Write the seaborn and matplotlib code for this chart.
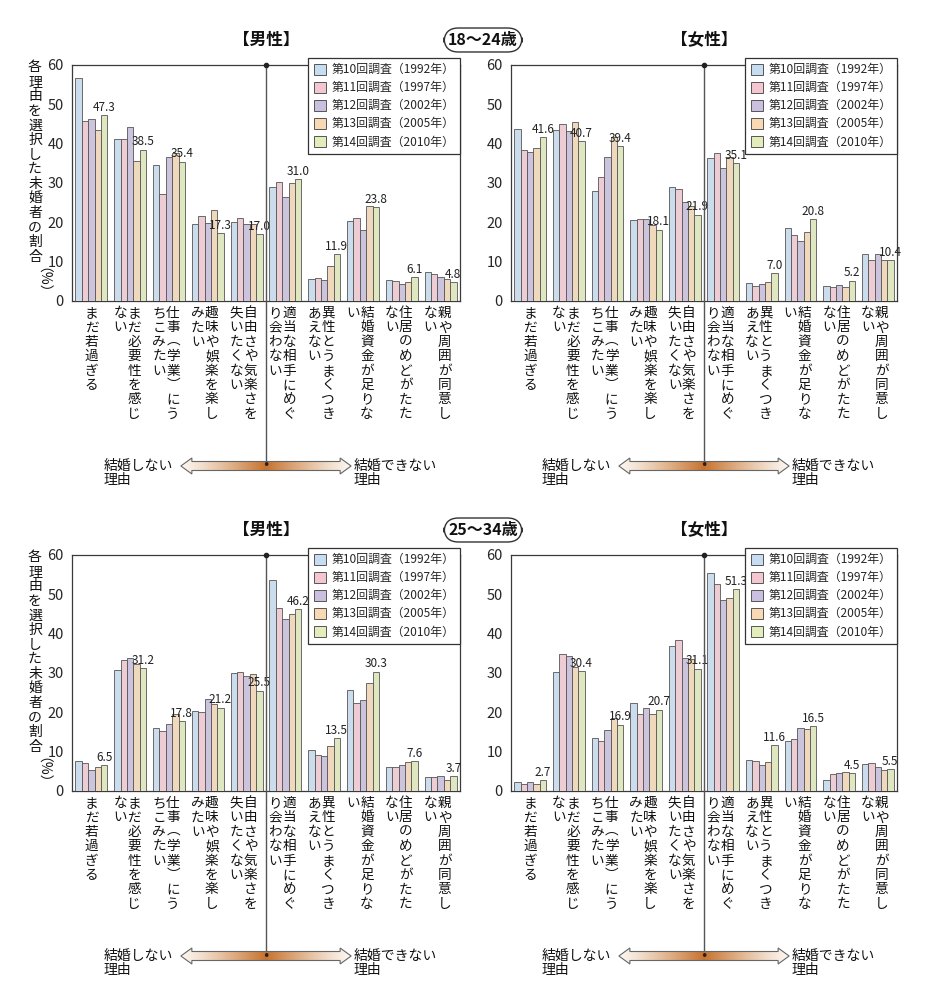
import numpy as np
import pandas as pd
import matplotlib
matplotlib.use("Agg")
import matplotlib.pyplot as plt
from matplotlib.patches import Patch, Polygon
from matplotlib.transforms import ScaledTranslation
import seaborn as sns

# ---- data ----
reasons = ["まだ若過ぎる", "まだ必要性を感じない", "仕事（学業）にうちこみたい",
           "趣味や娯楽を楽しみたい", "自由さや気楽さを失いたくない",
           "適当な相手にめぐり会わない", "異性とうまくつきあえない",
           "結婚資金が足りない", "住居のめどがたたない", "親や周囲が同意しない"]
# vertical label columns, right column first
label_cols = [["まだ若過ぎる"],
              ["まだ必要性を感じ", "ない"],
              ["仕事（学業）にう", "ちこみたい"],
              ["趣味や娯楽を楽し", "みたい"],
              ["自由さや気楽さを", "失いたくない"],
              ["適当な相手にめぐ", "り会わない"],
              ["異性とうまくつき", "あえない"],
              ["結婚資金が足りな", "い"],
              ["住居のめどがたた", "ない"],
              ["親や周囲が同意し", "ない"]]
surveys = ["第10回調査（1992年）", "第11回調査（1997年）", "第12回調査（2002年）",
           "第13回調査（2005年）", "第14回調査（2010年）"]
colors = ["#c6dcf1", "#f3c6d0", "#cbbfe0", "#f8d9b3", "#e3edbb"]

# rows: 1992, 1997, 2002, 2005, 2010
male_18_24 = [[56.7, 41.2, 34.7, 19.5, 20.2, 28.9, 5.7, 20.4, 5.4, 7.3],
              [45.8, 41.2, 27.3, 21.7, 21.0, 30.3, 5.9, 21.2, 5.2, 6.9],
              [46.2, 44.2, 36.7, 19.8, 19.7, 26.5, 5.3, 18.0, 4.4, 6.2],
              [43.6, 35.7, 37.5, 23.1, 19.6, 29.9, 8.8, 24.2, 4.9, 5.7],
              [47.3, 38.5, 35.4, 17.3, 17.0, 31.0, 11.9, 23.8, 6.1, 4.8]]
female_18_24 = [[43.8, 43.6, 27.9, 20.7, 29.1, 36.3, 4.5, 18.6, 3.7, 11.9],
                [38.5, 44.9, 31.4, 20.9, 28.6, 37.5, 3.8, 16.9, 3.6, 10.3],
                [38.0, 43.3, 36.7, 20.9, 25.1, 33.7, 4.3, 15.3, 4.1, 12.0],
                [39.0, 45.4, 41.7, 19.4, 24.2, 36.7, 4.9, 17.5, 3.6, 10.4],
                [41.6, 40.7, 39.4, 18.1, 21.9, 35.1, 7.0, 20.8, 5.2, 10.4]]
male_25_34 = [[7.5, 30.8, 16.0, 20.4, 30.1, 53.6, 10.5, 25.6, 6.2, 3.6],
              [7.0, 33.4, 15.3, 20.0, 30.3, 46.6, 9.2, 22.4, 6.0, 3.6],
              [5.4, 33.7, 17.0, 23.4, 29.2, 43.8, 9.0, 23.1, 6.5, 3.9],
              [6.0, 32.4, 19.7, 22.0, 29.8, 45.1, 11.4, 27.5, 7.3, 2.9],
              [6.5, 31.2, 17.8, 21.2, 25.5, 46.2, 13.5, 30.3, 7.6, 3.7]]
female_25_34 = [[2.4, 30.3, 13.6, 22.3, 36.9, 55.4, 7.9, 12.6, 2.8, 6.9],
                [1.7, 34.9, 12.7, 19.7, 38.4, 52.5, 7.6, 13.1, 4.2, 7.1],
                [2.4, 34.3, 15.4, 21.2, 33.8, 48.6, 6.6, 15.9, 4.6, 6.2],
                [1.9, 31.5, 18.6, 19.7, 33.6, 49.1, 7.3, 15.8, 4.9, 5.3],
                [2.7, 30.4, 16.9, 20.7, 31.1, 51.3, 11.6, 16.5, 4.5, 5.5]]

ages = ["18〜24歳", "25〜34歳"]
yticks = [0, 10, 20, 30, 40, 50, 60]
ylabel = "各理由を選択した未婚者の割合"

sns.set_style("white")
plt.rcParams["font.family"] = ["Noto Sans CJK JP", "DejaVu Sans"]

W, H = 925, 1005
fig = plt.figure(figsize=(W / 100, H / 100), dpi=100)
DARK = "#3a3a3a"


def px_rect(l, t, r, b):
    return [l / W, 1 - b / H, (r - l) / W, (b - t) / H]


def vert(c):
    return {"（": "︵", "）": "︶"}.get(c, c)


def px_off(ax, dx, dy):
    # offset in pixels (dy positive = down)
    return ScaledTranslation(dx / 100, -dy / 100, fig.dpi_scale_trans)


def draw_arrow(cx, cy, half):
    ax_a = fig.add_axes(px_rect(cx - half - 2, cy - 10, cx + half + 2, cy + 10))
    ax_a.set_xlim(-1, 1)
    ax_a.set_ylim(-1, 1)
    ax_a.axis("off")
    hl = 11 / (half + 2)
    verts = [(-0.99, 0), (-0.99 + hl, 0.8), (-0.99 + hl, 0.45), (0.99 - hl, 0.45),
             (0.99 - hl, 0.8), (0.99, 0), (0.99 - hl, -0.8), (0.99 - hl, -0.45),
             (-0.99 + hl, -0.45), (-0.99 + hl, -0.8)]
    poly = Polygon(verts, closed=True, fc="none", ec="#666666", lw=0.8, zorder=3)
    ax_a.add_patch(poly)
    t = np.abs(np.linspace(-1, 1, 300))
    c0 = np.array([0.78, 0.45, 0.18])
    c1 = np.array([0.99, 0.97, 0.95])
    grad = c0[None, :] * (1 - t[:, None]) ** 1.2 + c1[None, :] * (1 - (1 - t[:, None]) ** 1.2)
    im = ax_a.imshow(grad[None, :, :], extent=[-1, 1, -1, 1], aspect="auto", zorder=2)
    im.set_clip_path(poly)
    return ax_a


panels = [(male_18_24, "【男性】", (72, 65, 460, 301), True, 0),
          (female_18_24, "【女性】", (511, 65, 897, 301), False, 0),
          (male_25_34, "【男性】", (72, 555, 460, 791), True, 1),
          (female_25_34, "【女性】", (511, 555, 897, 791), False, 1)]

for values, title, (l, t, r, b), is_left, row in panels:
    ax = fig.add_axes(px_rect(l, t, r, b))
    df = pd.DataFrame({
        "reason": np.repeat([reasons], len(surveys), axis=0).ravel(),
        "survey": np.repeat(surveys, len(reasons)),
        "value": np.array(values).ravel(),
    })
    sns.barplot(data=df, x="reason", y="value", hue="survey", order=reasons,
                hue_order=surveys, palette=colors, width=0.82, gap=0,
                edgecolor="#555555", linewidth=0.6, legend=False, ax=ax, zorder=3)
    ax.bar_label(ax.containers[-1], fmt="%.1f", fontsize=8.5, padding=1,
                 family=["Liberation Sans Narrow", "Noto Sans CJK JP"], color="#222222")

    ax.set_ylim(0, 60)
    ax.set_xlim(-0.5, 9.5)
    ax.set_yticks(yticks)
    ax.set_yticks([10, 20, 30, 40, 50], minor=True)
    ax.yaxis.grid(True, which="minor", linestyle=(0, (2, 2)), color="#555555", lw=0.7, zorder=0)
    ax.tick_params(axis="y", which="major", length=4, width=0.8, color=DARK,
                   labelsize=10.5, pad=2)
    ax.tick_params(axis="y", which="minor", length=0)
    ax.set_xticks([])
    ax.set_xticks(np.arange(0.5, 9.5, 1), minor=True)
    ax.tick_params(axis="x", which="minor", direction="inout", length=8, width=0.8,
                   color=DARK, labelbottom=False)
    ax.set_xlabel("")
    ax.set_ylabel("")
    for sp in ax.spines.values():
        sp.set_color(DARK)
        sp.set_linewidth(0.9)

    # legend
    handles = [Patch(fc=c, ec="#555555", lw=0.7) for c in colors]
    leg = ax.legend(handles, surveys, loc="upper right", bbox_to_anchor=(1.0, 1.03),
                    fontsize=8.6, frameon=True, fancybox=False, edgecolor="#333333",
                    framealpha=1, handlelength=1.0, handleheight=1.0, handletextpad=0.5,
                    labelspacing=0.42, borderpad=0.45, borderaxespad=0)
    leg.get_frame().set_linewidth(0.9)
    leg.set_zorder(10)

    # vertical category labels
    xtr = ax.get_xaxis_transform()
    for i, cols in enumerate(label_cols):
        offsets = [0] if len(cols) == 1 else [4, -10]
        for col, dx in zip(cols, offsets):
            for k, ch in enumerate(col):
                ax.text(i, 0, vert(ch), transform=xtr + px_off(ax, dx, 12 + 14.4 * k),
                        ha="center", va="center", fontsize=9.8, color="#111111")

    # y label (left panels only)
    if is_left:
        for k, ch in enumerate(ylabel):
            ax.text(0, 1, ch, transform=ax.transAxes + px_off(ax, -37, 2 + 14.6 * k),
                    ha="center", va="center", fontsize=10, color="#111111")
        ax.text(0, 1, "（%）", transform=ax.transAxes + px_off(ax, -37, 222),
                ha="center", va="center", fontsize=10, rotation=-90, color="#111111")

    # center divider and arrow
    cx = l + (r - l) * 0.5
    cy = b + 165
    ax.plot([4.5, 4.5], [60, -165 / (b - t) * 60], color="#555555", lw=1.0,
            clip_on=False, zorder=4)
    ax.plot([4.5], [60], "o", color="#222222", ms=3, clip_on=False, zorder=5)
    ax_a = draw_arrow(cx, cy, 84)
    fig.text(cx / W, 1 - cy / H, "•", ha="center", va="center", fontsize=9,
             color="#222222", family="DejaVu Sans")
    fig.text((cx - 162) / W, 1 - (cy + 7) / H, "結婚しない\n理由", ha="left", va="center",
             fontsize=10, linespacing=1.0, color="#111111")
    fig.text((cx + 88) / W, 1 - (cy + 7) / H, "結婚できない\n理由", ha="left", va="center",
             fontsize=10, linespacing=1.0, color="#111111")

    # panel title
    fig.text(cx / W, 1 - (t - 25) / H, title, ha="center", va="center",
             fontsize=12, fontweight="bold", color="#111111")

# age badges
for row, age in enumerate(ages):
    y = 40 + 490 * row
    fig.text(483 / W, 1 - y / H, age, ha="center", va="center", fontsize=11.5,
             fontweight="bold", color="#111111",
             bbox=dict(boxstyle="round,pad=0.25,rounding_size=0.9", fc="white",
                       ec="#333333", lw=1.0))

fig.savefig("out.png", dpi=100)
